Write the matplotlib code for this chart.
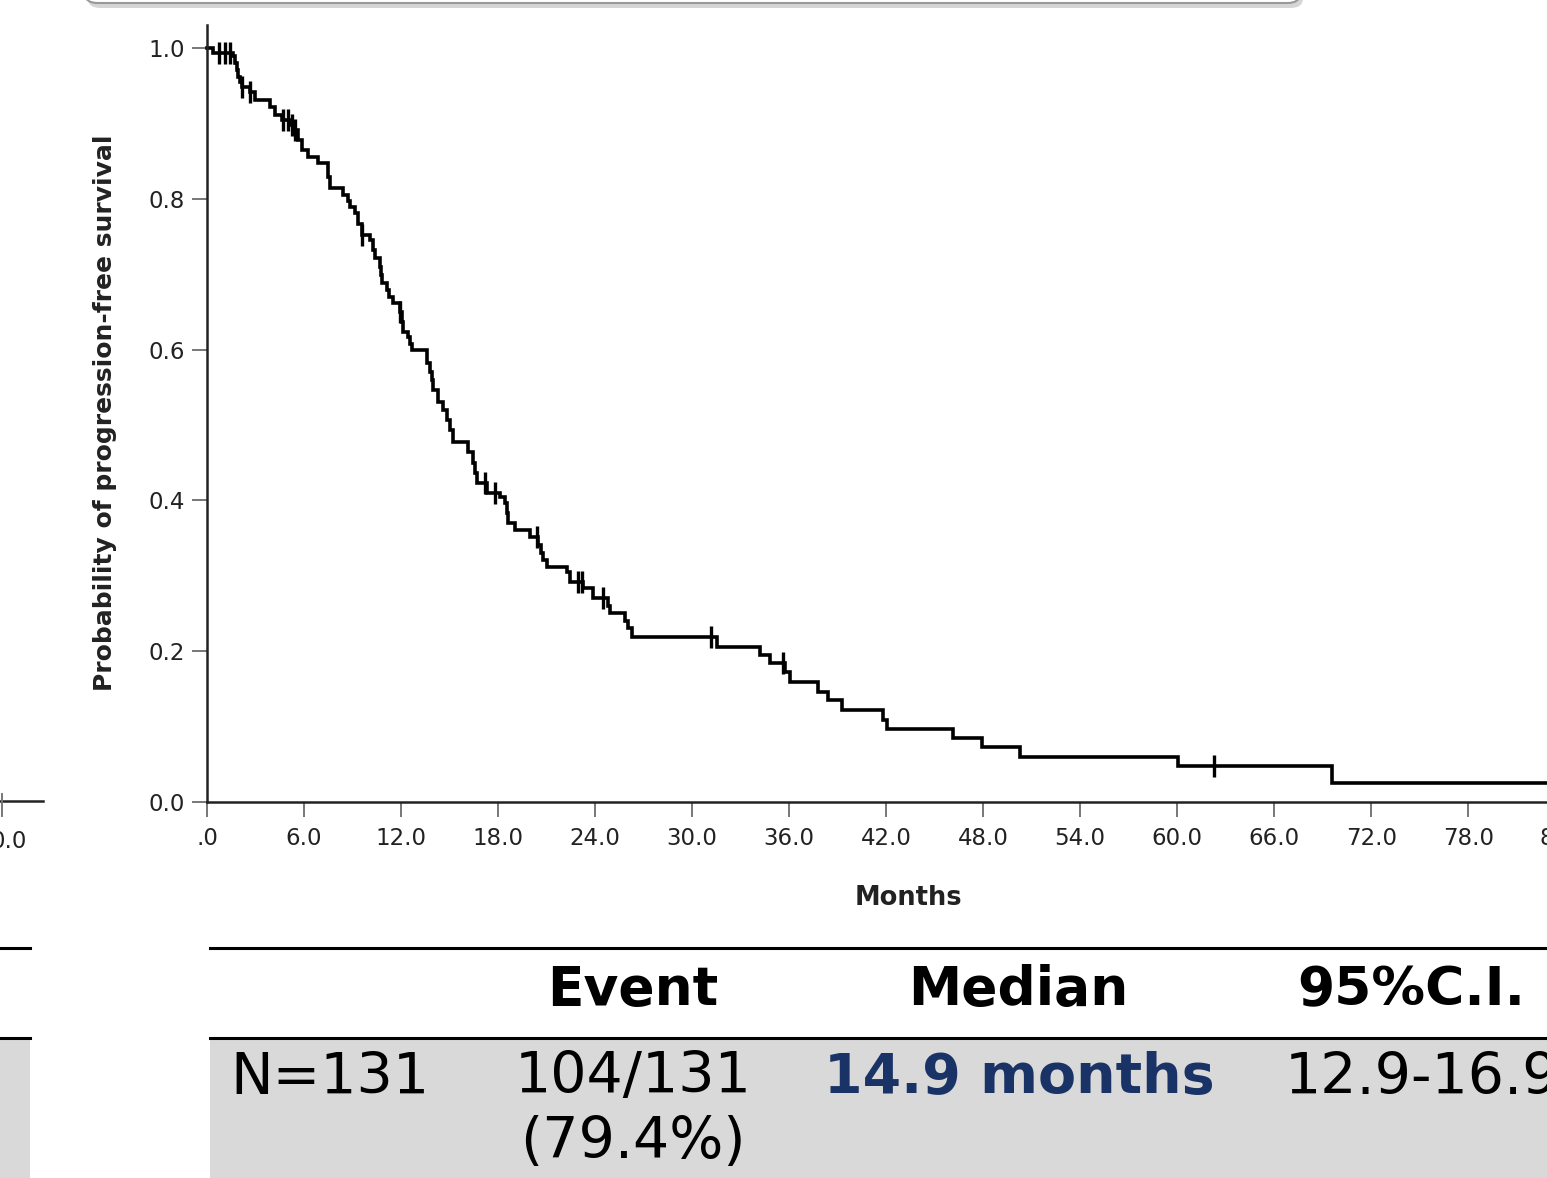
import numpy as np
import matplotlib
matplotlib.use('Agg')
import matplotlib.pyplot as plt
from matplotlib.lines import Line2D
from matplotlib.patches import Rectangle, FancyBboxPatch

# Kaplan-Meier steps (months, survival after the drop)
event_months = [0.37, 1.61, 1.73, 1.86, 1.92, 2.04, 2.16, 2.66, 2.97, 3.90, 4.21, 4.64,
                5.13, 5.32, 5.63, 5.88, 6.25, 6.86, 7.48, 7.61, 8.41, 8.72, 8.84, 9.15,
                9.34, 9.59, 10.08, 10.27, 10.39, 10.70, 10.76, 10.82, 11.13, 11.26, 11.50,
                11.94, 12.06, 12.12, 12.43, 12.55, 12.68, 13.61, 13.79, 13.91, 13.98, 14.29,
                14.60, 14.84, 15.03, 15.21, 16.14, 16.45, 16.57, 16.70, 17.32, 18.12, 18.43,
                18.55, 18.61, 19.05, 19.98, 20.47, 20.66, 20.78, 21.03, 22.26, 22.45, 23.25,
                23.87, 24.80, 24.92, 25.85, 26.04, 26.28, 31.54, 34.20, 34.82, 35.75, 36.05,
                37.79, 38.40, 39.27, 41.81, 42.05, 46.13, 47.93, 50.28, 60.05, 69.57]
survival = [0.993, 0.989, 0.980, 0.971, 0.962, 0.955, 0.948, 0.942, 0.931, 0.922, 0.911, 0.905,
            0.898, 0.891, 0.878, 0.865, 0.855, 0.847, 0.829, 0.814, 0.805, 0.797, 0.789, 0.781,
            0.767, 0.752, 0.745, 0.732, 0.721, 0.710, 0.699, 0.688, 0.679, 0.670, 0.662,
            0.650, 0.637, 0.623, 0.617, 0.607, 0.600, 0.582, 0.570, 0.560, 0.546, 0.530,
            0.520, 0.507, 0.493, 0.477, 0.464, 0.450, 0.436, 0.423, 0.410, 0.405, 0.397,
            0.383, 0.370, 0.361, 0.351, 0.341, 0.330, 0.321, 0.312, 0.305, 0.292, 0.284,
            0.271, 0.260, 0.251, 0.240, 0.231, 0.219, 0.206, 0.195, 0.184, 0.172, 0.159,
            0.146, 0.135, 0.122, 0.109, 0.097, 0.085, 0.073, 0.060, 0.048, 0.025]
censor_months = [0.74, 1.11, 1.42, 2.16, 2.66, 4.70, 5.01, 5.26, 5.44, 9.59, 11.94, 17.19,
                 17.81, 20.41, 22.94, 23.19, 24.49, 31.17, 35.62, 62.26]
last_followup = 86.0

x_ticks = [0, 6, 12, 18, 24, 30, 36, 42, 48, 54, 60, 66, 72, 78, 84]
x_ticklabels = ['.0'] + ['%.1f' % v for v in x_ticks[1:]]
y_ticks = [0.0, 0.2, 0.4, 0.6, 0.8, 1.0]

headers = ['Event', 'Median', '95%C.I.']
row_n = 'N=131'
row_event = ['104/131', '(79.4%)']
row_median = '14.9 months'
row_ci = '12.9-16.9'

W, H = 1547, 1178
fig = plt.figure(figsize=(W / 100, H / 100), dpi=100)
fig.patch.set_facecolor('white')


def fx(x):
    return x / W


def fy(y):
    return 1 - y / H


# main KM plot (axes run a bit past the right edge like the cropped slide)
ax = fig.add_axes([fx(207), fy(802), (1600 - 207) / W, (802 - 25) / H])
t = np.r_[0, event_months, last_followup]
s = np.r_[1.0, survival, survival[-1]]
ax.step(t, s, where='post', color='black', lw=2.6, solid_joinstyle='miter', clip_on=False)

idx = np.searchsorted(t, censor_months, side='right') - 1
ax.plot(censor_months, s[idx], ls='none', marker='|', ms=16, mew=2.4, color='black')

ax.set_xlim(0, (1600 - 207) / 16.17)
ax.set_ylim(0, (802 - 25) / 754)
ax.set_xticks(x_ticks)
ax.set_xticklabels(x_ticklabels)
ax.set_yticks(y_ticks)
ax.set_yticklabels(['%.1f' % v for v in y_ticks])
for side in ['top', 'right']:
    ax.spines[side].set_visible(False)
for side in ['left', 'bottom']:
    ax.spines[side].set_color('#222222')
    ax.spines[side].set_linewidth(1.8)
ax.tick_params(axis='x', direction='out', length=11, width=1.4, color='#777777',
               labelsize=16.5, pad=7, labelcolor='#222222')
ax.tick_params(axis='y', direction='out', length=11, width=1.4, color='#777777',
               labelsize=16.5, pad=5, labelcolor='#222222')
ax.set_xlabel('Months', fontsize=18.5, fontweight='bold', color='#222222')
ax.xaxis.set_label_coords((908 - 207) / (1600 - 207), -(898 - 802) / (802 - 25))
ax.xaxis.label.set_va('center')
fig.text(fx(105), fy(413), 'Probability of progression-free survival', rotation=90,
         ha='center', va='center', fontsize=18, fontweight='bold', color='#222222')

# leftover of the neighbouring plot on the slide
fig.add_artist(Line2D([0, fx(43)], [fy(801), fy(801)], color='#222222', lw=1.8))
fig.add_artist(Line2D([fx(2), fx(2)], [fy(794), fy(816)], color='#777777', lw=1.4))
fig.text(fx(9), fy(842), '0.0', ha='center', va='center', fontsize=16.5, color='#222222')

# box from the slide above
shadow = FancyBboxPatch((fx(88), fy(8)), fx(1300) - fx(85), 0.2, boxstyle='round,pad=0,rounding_size=0.008',
                        transform=fig.transFigure, facecolor='#c4c4c4', edgecolor='none', alpha=0.7)
box = FancyBboxPatch((fx(85), fy(3)), fx(1300) - fx(85), 0.2, boxstyle='round,pad=0,rounding_size=0.008',
                     transform=fig.transFigure, facecolor='white', edgecolor='#999999', lw=1.5)
fig.add_artist(shadow)
fig.add_artist(box)

# summary table
fig.add_artist(Rectangle((fx(210), 0), 1 - fx(210), fy(1039), transform=fig.transFigure,
                         facecolor='#d9d9d9', edgecolor='none'))
fig.add_artist(Rectangle((0, 0), fx(30), fy(1039), transform=fig.transFigure,
                         facecolor='#d9d9d9', edgecolor='none'))
for y0 in [948, 1038]:
    fig.add_artist(Line2D([fx(210), 1], [fy(y0), fy(y0)], color='black', lw=2.2))
    fig.add_artist(Line2D([0, fx(30)], [fy(y0), fy(y0)], color='black', lw=2.2))

fig.text(fx(633), fy(990), headers[0], ha='center', va='center', fontsize=38.5, fontweight='bold')
fig.text(fx(1018), fy(990), headers[1], ha='center', va='center', fontsize=38.5, fontweight='bold')
fig.text(fx(1297), fy(990), headers[2], ha='left', va='center', fontsize=38.5, fontweight='bold')

fig.text(fx(230), fy(1078), row_n, ha='left', va='center', fontsize=41)
fig.text(fx(633), fy(1078), row_event[0], ha='center', va='center', fontsize=41)
fig.text(fx(633), fy(1143), row_event[1], ha='center', va='center', fontsize=41)
fig.text(fx(1019), fy(1078), row_median, ha='center', va='center', fontsize=40,
         fontweight='bold', color='#1a3366')
fig.text(fx(1285), fy(1078), row_ci, ha='left', va='center', fontsize=41)

fig.savefig('out.png', dpi=100)
